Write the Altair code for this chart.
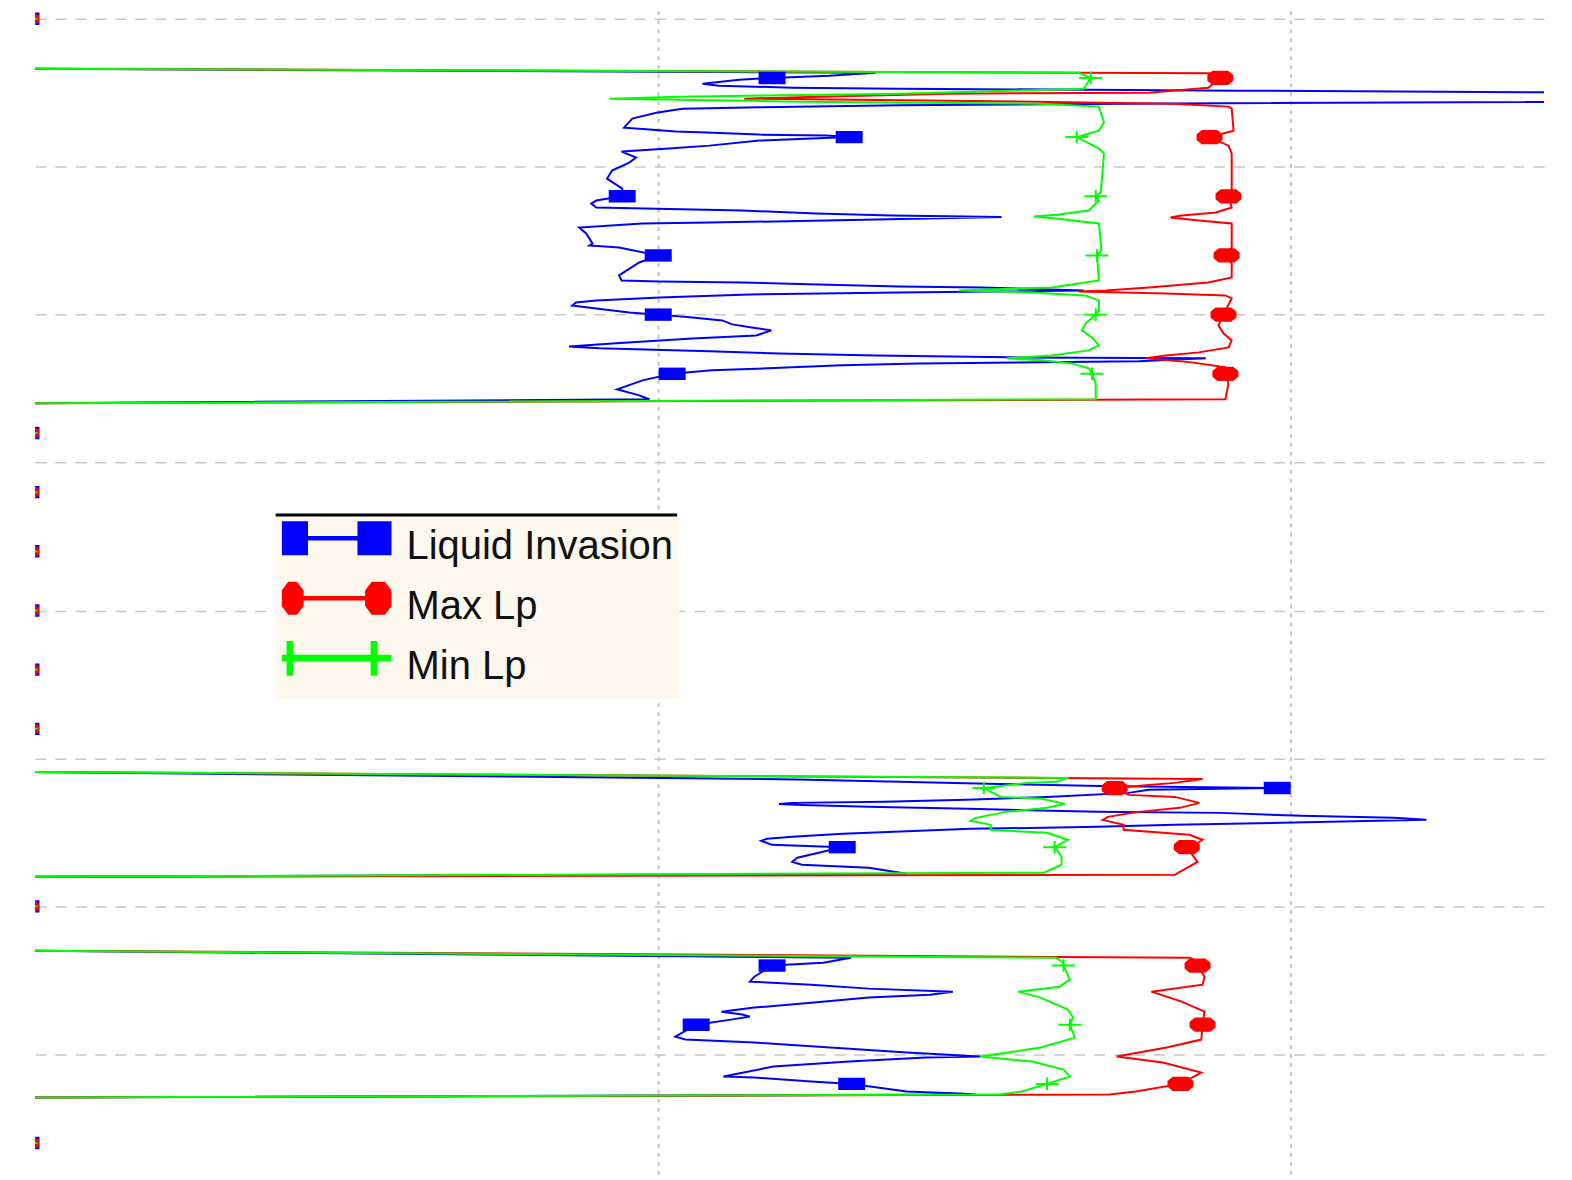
import altair as alt
import pandas as pd

SERIES = ["Liquid Invasion", "Max Lp", "Min Lp"]
COLORS = ["#0000ff", "#ff0000", "#00ff00"]

# depth of the marker samples (every 10 units) and the value at each marker
MARKER_DEPTH = [0, 10, 20, 30, 40, 50, 60, 70, 80, 90, 100, 110, 120, 130, 140, 150, 160, 170, 180, 190]
LI_MARKERS = [0, 1.180, 1.302, 0.943, 1.000, 1.000, 1.022, 0, 0, 0, 0, 0, 0, 1.979, 1.291, 0, 1.180, 1.060, 1.306, 0]
MAX_MARKERS = [0, 1.889, 1.872, 1.902, 1.899, 1.894, 1.897, 0, 0, 0, 0, 0, 0, 1.722, 1.836, 0, 1.853, 1.861, 1.826, 0]
MIN_MARKERS = [0, 1.684, 1.662, 1.692, 1.694, 1.692, 1.686, 0, 0, 0, 0, 0, 0, 1.515, 1.627, 0, 1.641, 1.651, 1.615, 0]

# (depth, value) samples per zone
LI_ZONE1 = [(8.44, 0), (9.12, 1.344), (9.62, 1.270), (10.30, 1.128), (10.97, 1.070), (11.31, 1.096), (11.65, 1.212),
            (11.82, 1.381), (12.15, 1.918), (13.34, 4.0), (14.35, 1.744), (14.60, 1.381), (14.97, 1.160), (15.19, 1.038),
            (15.87, 0.997), (16.88, 0.959), (18.40, 0.946), (18.57, 0.970), (19.07, 1.028), (19.24, 1.076), (19.58, 1.160),
            (19.75, 1.265), (20.59, 1.160), (21.44, 1.081), (21.94, 1.017), (22.45, 0.942), (23.46, 0.965), (24.31, 0.954),
            (25.66, 0.927), (27.01, 0.919), (28.70, 0.943), (30.72, 0.902), (31.23, 0.894), (31.90, 0.902), (32.41, 1.133),
            (32.92, 1.250), (33.25, 1.370), (33.51, 1.543), (34.10, 1.265), (34.44, 1.081), (34.60, 0.975), (35.28, 0.875),
            (36.29, 0.886), (37.98, 0.896), (38.32, 0.891), (38.66, 0.938), (41.19, 0.970), (43.38, 0.938), (44.23, 0.942),
            (44.39, 1.002), (44.56, 1.133), (44.90, 1.254), (45.24, 1.381), (45.41, 1.512), (45.91, 1.673), (46.25, 1.381),
            (46.59, 1.144), (47.10, 1.002), (47.60, 0.902), (47.94, 0.870), (48.45, 0.864), (48.95, 0.902), (49.63, 0.954),
            (50.47, 1.054), (50.98, 1.101), (51.65, 1.117), (52.16, 1.148), (52.67, 1.179), (53.51, 1.155), (54.02, 1.054),
            (54.86, 0.927), (55.37, 0.859), (55.70, 0.907), (56.21, 1.081), (56.55, 1.191), (56.89, 1.344), (57.22, 1.555),
            (57.39, 1.866), (57.90, 1.760), (58.24, 1.412), (58.57, 1.291), (58.91, 1.212), (59.42, 1.085), (61.11, 0.975),
            (62.62, 0.935), (63.64, 0.970), (64.31, 0.986), (64.99, 0)]
LI_ZONE2 = [(127.28, 0), (128.54, 1.220), (128.96, 1.381), (129.30, 1.539), (129.64, 1.697), (130.31, 1.776),
            (130.82, 1.744), (131.50, 1.615), (132.00, 1.487), (132.34, 1.357), (132.51, 1.212), (132.68, 1.191),
            (132.85, 1.227), (133.18, 1.333), (133.52, 1.491), (134.03, 1.695), (134.20, 1.889), (134.70, 2.017),
            (135.04, 2.163), (135.38, 2.215), (135.88, 1.986), (136.22, 1.817), (136.56, 1.695), (136.90, 1.494),
            (137.40, 1.373), (137.74, 1.292), (138.25, 1.212), (138.58, 1.172), (138.92, 1.163), (139.60, 1.180),
            (141.79, 1.220), (142.47, 1.212), (142.97, 1.227), (143.48, 1.333), (144.49, 1.393), (145.00, 0)]
LI_ZONE3 = [(157.49, 0), (158.67, 1.305), (159.52, 1.261), (161.88, 1.152), (162.72, 1.145), (163.23, 1.242),
            (163.90, 1.333), (164.41, 1.466), (164.92, 1.430), (165.42, 1.333), (166.27, 1.242), (167.11, 1.152),
            (167.79, 1.100), (168.29, 1.133), (168.63, 1.145), (169.14, 1.115), (172.01, 1.027), (172.51, 1.043),
            (173.02, 1.152), (173.86, 1.272), (174.71, 1.393), (175.38, 1.509), (175.55, 1.423), (176.23, 1.302),
            (177.07, 1.182), (178.76, 1.103), (178.93, 1.152), (179.60, 1.242), (181.29, 1.393), (181.63, 1.477),
            (181.80, 1.502), (182.30, 0)]

MAX_ZONE1 = [(8.44, 0), (9.20, 1.875), (11.65, 1.870), (12.49, 1.776), (12.66, 1.460), (13.17, 1.254), (13.50, 1.136),
             (13.84, 1.460), (14.35, 1.812), (14.85, 1.902), (15.19, 1.907), (18.91, 1.910), (21.44, 1.902), (22.79, 1.907),
             (29.03, 1.907), (31.90, 1.907), (32.75, 1.882), (33.25, 1.828), (33.59, 1.810), (34.10, 1.855), (34.60, 1.907),
             (38.66, 1.907), (41.36, 1.907), (43.72, 1.907), (44.56, 1.870), (45.41, 1.776), (45.91, 1.708), (46.08, 1.665),
             (46.42, 1.803), (46.76, 1.897), (47.26, 1.907), (51.82, 1.886), (53.17, 1.894), (54.35, 1.907), (55.54, 1.902),
             (56.38, 1.855), (56.89, 1.803), (57.39, 1.771), (58.07, 1.844), (58.91, 1.897), (61.61, 1.902), (64.31, 1.897),
             (64.99, 0)]
MAX_ZONE2 = [(127.28, 0), (128.46, 1.861), (129.13, 1.817), (129.47, 1.776), (131.16, 1.744), (131.50, 1.817),
             (132.51, 1.856), (133.35, 1.825), (134.03, 1.760), (134.87, 1.711), (135.38, 1.703), (136.22, 1.736),
             (137.07, 1.736), (137.91, 1.840), (138.75, 1.861), (139.60, 1.848), (142.47, 1.853), (144.16, 1.825),
             (144.66, 1.817), (145.00, 0)]
MAX_ZONE3 = [(157.49, 0), (158.67, 1.840), (159.35, 1.855), (161.88, 1.864), (163.23, 1.861), (164.41, 1.780),
             (166.10, 1.828), (167.79, 1.864), (172.51, 1.859), (173.86, 1.804), (175.38, 1.725), (176.40, 1.798),
             (178.08, 1.859), (181.29, 1.755), (181.80, 1.714), (182.30, 0)]

MIN_ZONE1 = [(8.44, 0), (9.12, 1.665), (11.82, 1.673), (12.66, 1.381), (13.17, 1.033), (13.50, 0.923), (14.01, 1.223),
             (14.35, 1.602), (14.85, 1.697), (17.56, 1.705), (18.91, 1.697), (21.94, 1.697), (22.79, 1.705), (29.37, 1.700),
             (30.72, 1.697), (32.41, 1.681), (33.08, 1.634), (33.42, 1.594), (33.76, 1.629), (34.60, 1.697), (39.16, 1.701),
             (44.23, 1.697), (44.73, 1.665), (45.41, 1.622), (45.91, 1.476), (46.25, 1.591), (46.76, 1.676), (47.60, 1.697),
             (49.29, 1.697), (51.48, 1.676), (52.67, 1.670), (53.85, 1.686), (55.20, 1.697), (56.04, 1.681), (56.89, 1.622),
             (57.39, 1.551), (57.73, 1.607), (58.24, 1.654), (59.08, 1.681), (61.61, 1.692), (64.31, 1.692), (64.99, 0)]
MIN_ZONE2 = [(127.28, 0), (128.29, 1.648), (128.96, 1.630), (129.13, 1.583), (131.50, 1.542), (131.83, 1.607),
             (132.68, 1.643), (133.35, 1.615), (134.03, 1.550), (135.04, 1.502), (135.55, 1.494), (136.22, 1.526),
             (137.07, 1.526), (137.57, 1.615), (138.75, 1.648), (141.62, 1.638), (142.97, 1.638), (144.32, 1.610),
             (145.00, 0)]
MIN_ZONE3 = [(157.49, 0), (158.67, 1.629), (159.52, 1.641), (162.39, 1.651), (163.57, 1.635), (164.41, 1.569),
             (165.42, 1.605), (167.45, 1.648), (168.80, 1.656), (172.18, 1.659), (173.86, 1.605), (175.38, 1.509),
             (176.23, 1.592), (177.58, 1.641), (178.76, 1.651), (181.29, 1.575), (181.80, 1.539), (182.30, 0)]

SOURCES = [
    (SERIES[0], LI_ZONE1 + LI_ZONE2 + LI_ZONE3, LI_MARKERS),
    (SERIES[1], MAX_ZONE1 + MAX_ZONE2 + MAX_ZONE3, MAX_MARKERS),
    (SERIES[2], MIN_ZONE1 + MIN_ZONE2 + MIN_ZONE3, MIN_MARKERS),
]

line_rows, marker_rows = [], []
for name, samples, marks in SOURCES:
    pts = sorted(samples + list(zip(MARKER_DEPTH, marks)), key=lambda p: p[0])
    for i, (d, v) in enumerate(pts):
        line_rows.append({"series": name, "depth": d, "value": v, "seq": i})
    for d, v in zip(MARKER_DEPTH, marks):
        marker_rows.append({"series": name, "depth": d, "value": v})
lines_df = pd.DataFrame(line_rows)
markers_df = pd.DataFrame(marker_rows)

x_enc = alt.X("value:Q",
              scale=alt.Scale(domain=[0.0142, 2.401], nice=False, zero=False),
              axis=alt.Axis(values=[1, 2], labels=False, ticks=False, domain=False, title=None,
                            grid=True, gridDash=[4, 5], gridColor="#c4c4c4", gridWidth=2))
y_enc = alt.Y("depth:Q",
              scale=alt.Scale(domain=[-1.69, 195.27], nice=False, zero=False, reverse=True),
              axis=alt.Axis(values=[0, 25, 50, 75, 100, 125, 150, 175], labels=False, ticks=False,
                            domain=False, title=None, grid=True, gridDash=[11, 9],
                            gridColor="#c8c8c8", gridWidth=1.5))

layers = []
for name, col in zip(SERIES, COLORS):
    layers.append(
        alt.Chart(lines_df).transform_filter(alt.datum.series == name)
        .mark_line(color=col, strokeWidth=2, clip=True)
        .encode(x=x_enc, y=y_enc, order=alt.Order("seq:Q"))
    )

MARK_SHAPES = {
    SERIES[0]: dict(shape="M-1,-0.46H1V0.46H-1Z", filled=True, size=729, strokeWidth=0),
    SERIES[1]: dict(shape="M-0.6,-0.55L0.6,-0.55L1,-0.22L1,0.22L0.6,0.55L-0.6,0.55L-1,0.22L-1,-0.22Z",
                    filled=True, size=676, strokeWidth=0),
    SERIES[2]: dict(shape="M-1,0H1M0,-0.55V0.55", filled=False, size=529, strokeWidth=2),
}
for name, col in zip(SERIES, COLORS):
    layers.append(
        alt.Chart(markers_df).transform_filter(alt.datum.series == name)
        .mark_point(color=col, opacity=1, clip=True, **MARK_SHAPES[name])
        .encode(x=x_enc, y=y_enc)
    )

LEGEND_PATHS = [
    "M-1,-0.47H-0.52V-0.2H0.38V-0.47H1V0.15H0.38V-0.12H-0.52V0.15H-1Z",
    "M-0.88,-0.46L-0.72,-0.46L-0.6,-0.3L-0.6,-0.02L-0.72,0.14L-0.88,0.14L-1,-0.02L-1,-0.3Z"
    "M0.64,-0.46L0.88,-0.46L1,-0.3L1,-0.02L0.88,0.14L0.64,0.14L0.52,-0.02L0.52,-0.3Z"
    "M-0.62,-0.2H0.54V-0.12H-0.62Z",
    "M-1,-0.22H1V-0.1H-1Z M-0.91,-0.48H-0.79V0.16H-0.91Z M0.62,-0.48H0.74V0.16H0.62Z",
]
legend = alt.Legend(title=None, orient="none", legendX=241, legendY=507, direction="vertical",
                    symbolSize=12100, clipHeight=52, rowPadding=8, padding=6,
                    labelFont="Liberation Sans, Arial, sans-serif", labelFontSize=40, labelColor="#111111",
                    labelOffset=15, labelLimit=1000, labelExpr="datum.label + '\u00a0\u00a0'",
                    fillColor="#fdf8ee", symbolStrokeWidth=0)
legend_layer = (
    alt.Chart(pd.DataFrame({"series": SERIES})).transform_filter("false")
    .mark_point(filled=True, size=12100, opacity=1)
    .encode(
        color=alt.Color("series:N", scale=alt.Scale(domain=SERIES, range=COLORS), legend=legend),
        shape=alt.Shape("series:N", scale=alt.Scale(domain=SERIES, range=LEGEND_PATHS), legend=legend),
    )
)
layers.append(legend_layer)

chart = (
    alt.layer(*layers)
    .properties(width=1511, height=1167,
                padding={"left": 27, "top": 0, "right": 20, "bottom": 4},
                autosize=alt.AutoSizeParams(type="none"), background="white")
    .configure_view(stroke="transparent")
    .configure_legend(strokeColor="#000000", strokeWidth=3, strokeDash=[402, 4000])
)

chart.save("out.html", embed_options={"renderer": "svg", "actions": False})
